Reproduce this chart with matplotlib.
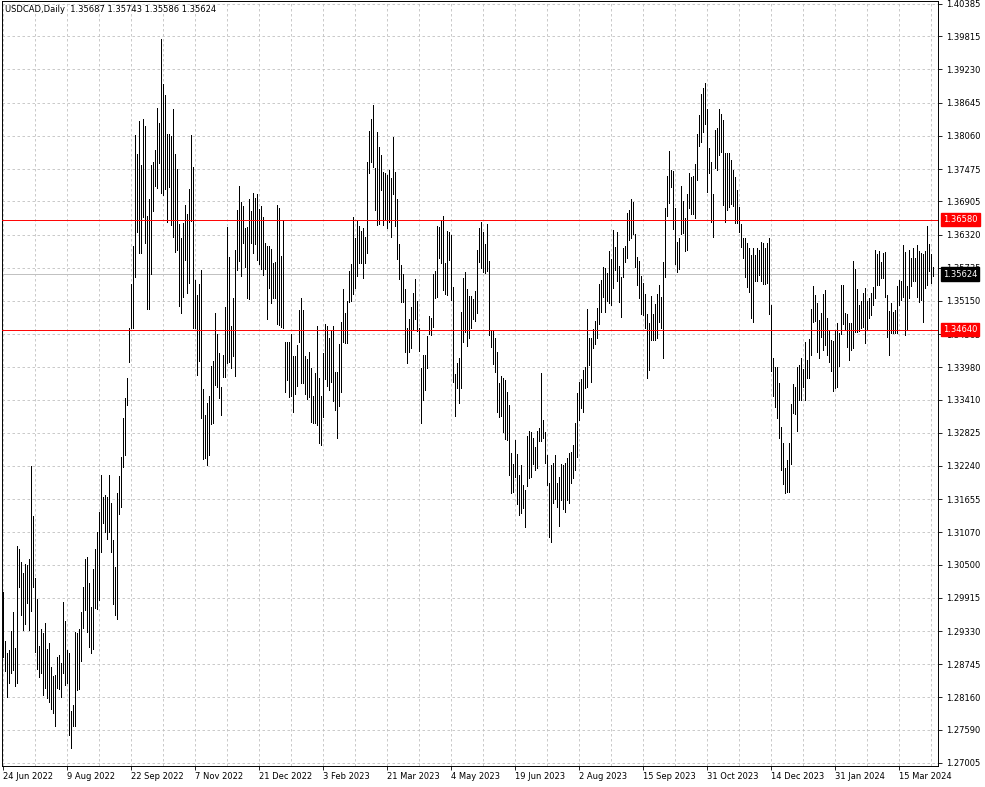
import numpy as np
import pandas as pd
import matplotlib
matplotlib.use("Agg")
import matplotlib.pyplot as plt

plt.rcParams['font.family'] = ['DejaVu Sans']

symbol = "USDCAD,Daily"
last_ohlc = [1.35687, 1.35743, 1.35586, 1.35624]
current_price = 1.35624
levels = [1.36580, 1.34640]

# daily highs / lows (24 Jun 2022 -> Apr 2024)
highs = [
    1.3002, 1.2915, 1.2894, 1.2900, 1.2933, 1.2967, 1.2903, 1.3083, 1.3078, 1.3055,
    1.3035, 1.3051, 1.3049, 1.3060, 1.3224, 1.3136, 1.3027, 1.2989, 1.2907, 1.2937,
    1.2930, 1.2947, 1.2901, 1.2912, 1.2870, 1.2854, 1.2856, 1.2887, 1.2891, 1.2877,
    1.2984, 1.2951, 1.2900, 1.2894, 1.2792, 1.2803, 1.2931, 1.2930, 1.2937, 1.2967,
    1.3011, 1.3060, 1.3064, 1.3018, 1.2975, 1.3042, 1.3078, 1.3108, 1.3143, 1.3208,
    1.3169, 1.3173, 1.3169, 1.3208, 1.3159, 1.3094, 1.3046, 1.3176, 1.3206, 1.3240,
    1.3309, 1.3344, 1.3379, 1.3467, 1.3545, 1.3612, 1.3808, 1.3774, 1.3832, 1.3755,
    1.3836, 1.3823, 1.3665, 1.3695, 1.3755, 1.3760, 1.3781, 1.3855, 1.3829, 1.3977,
    1.3897, 1.3878, 1.3809, 1.3809, 1.3806, 1.3853, 1.3774, 1.3748, 1.3651, 1.3626,
    1.3652, 1.3684, 1.3668, 1.3712, 1.3808, 1.3751, 1.3552, 1.3525, 1.3545, 1.3570,
    1.3360, 1.3314, 1.3335, 1.3347, 1.3400, 1.3409, 1.3494, 1.3457, 1.3423, 1.3363,
    1.3420, 1.3504, 1.3645, 1.3592, 1.3471, 1.3520, 1.3605, 1.3675, 1.3718, 1.3689,
    1.3682, 1.3644, 1.3645, 1.3695, 1.3674, 1.3705, 1.3696, 1.3703, 1.3677, 1.3682,
    1.3663, 1.3617, 1.3612, 1.3612, 1.3607, 1.3582, 1.3584, 1.3684, 1.3679, 1.3594,
    1.3658, 1.3443, 1.3443, 1.3443, 1.3457, 1.3418, 1.3418, 1.3437, 1.3499, 1.3520,
    1.3499, 1.3418, 1.3413, 1.3425, 1.3397, 1.3347, 1.3388, 1.3471, 1.3379, 1.3347,
    1.3423, 1.3474, 1.3471, 1.3450, 1.3464, 1.3471, 1.3390, 1.3390, 1.3439, 1.3478,
    1.3536, 1.3494, 1.3515, 1.3568, 1.3580, 1.3663, 1.3626, 1.3656, 1.3647, 1.3638,
    1.3644, 1.3628, 1.3760, 1.3815, 1.3836, 1.3860, 1.3749, 1.3813, 1.3786, 1.3772,
    1.3742, 1.3741, 1.3737, 1.3746, 1.3732, 1.3804, 1.3742, 1.3695, 1.3615, 1.3578,
    1.3562, 1.3536, 1.3467, 1.3483, 1.3504, 1.3529, 1.3554, 1.3515, 1.3467, 1.3397,
    1.3420, 1.3420, 1.3453, 1.3488, 1.3485, 1.3562, 1.3568, 1.3647, 1.3645, 1.3658,
    1.3665, 1.3582, 1.3638, 1.3637, 1.3631, 1.3540, 1.3386, 1.3406, 1.3414, 1.3496,
    1.3555, 1.3566, 1.3536, 1.3524, 1.3524, 1.3519, 1.3532, 1.3605, 1.3644, 1.3654,
    1.3637, 1.3615, 1.3651, 1.3585, 1.3464, 1.3462, 1.3450, 1.3425, 1.3370, 1.3383,
    1.3379, 1.3376, 1.3354, 1.3332, 1.3247, 1.3228, 1.3270, 1.3245, 1.3208, 1.3226,
    1.3190, 1.3182, 1.3277, 1.3286, 1.3284, 1.3273, 1.3257, 1.3286, 1.3291, 1.3388,
    1.3305, 1.3284, 1.3243, 1.3194, 1.3226, 1.3229, 1.3243, 1.3194, 1.3204, 1.3228,
    1.3226, 1.3229, 1.3238, 1.3247, 1.3249, 1.3261, 1.3300, 1.3353, 1.3372, 1.3377,
    1.3393, 1.3399, 1.3501, 1.3450, 1.3450, 1.3466, 1.3480, 1.3503, 1.3545, 1.3552,
    1.3575, 1.3573, 1.3564, 1.3603, 1.3589, 1.3640, 1.3610, 1.3637, 1.3577, 1.3557,
    1.3608, 1.3612, 1.3670, 1.3675, 1.3695, 1.3689, 1.3633, 1.3592, 1.3585, 1.3559,
    1.3547, 1.3527, 1.3492, 1.3476, 1.3524, 1.3492, 1.3510, 1.3527, 1.3543, 1.3522,
    1.3584, 1.3679, 1.3735, 1.3779, 1.3746, 1.3744, 1.3679, 1.3619, 1.3626, 1.3718,
    1.3691, 1.3661, 1.3703, 1.3741, 1.3733, 1.3735, 1.3756, 1.3809, 1.3843, 1.3880,
    1.3890, 1.3899, 1.3853, 1.3784, 1.3760, 1.3703, 1.3816, 1.3820, 1.3853, 1.3844,
    1.3834, 1.3776, 1.3776, 1.3776, 1.3763, 1.3746, 1.3733, 1.3711, 1.3680, 1.3651,
    1.3626, 1.3626, 1.3617, 1.3608, 1.3596, 1.3608, 1.3596, 1.3608, 1.3605, 1.3619,
    1.3617, 1.3608, 1.3617, 1.3626, 1.3508, 1.3414, 1.3399, 1.3399, 1.3370, 1.3293,
    1.3265, 1.3221, 1.3235, 1.3265, 1.3333, 1.3368, 1.3363, 1.3399, 1.3402, 1.3414,
    1.3395, 1.3443, 1.3411, 1.3448, 1.3501, 1.3541, 1.3525, 1.3511, 1.3481, 1.3494,
    1.3527, 1.3534, 1.3485, 1.3464, 1.3446, 1.3444, 1.3464, 1.3476, 1.3459, 1.3543,
    1.3543, 1.3494, 1.3492, 1.3476, 1.3476, 1.3585, 1.3571, 1.3536, 1.3508, 1.3515,
    1.3529, 1.3538, 1.3515, 1.3520, 1.3529, 1.3540, 1.3605, 1.3598, 1.3603, 1.3584,
    1.3600, 1.3601, 1.3525, 1.3497, 1.3511, 1.3496, 1.3499, 1.3541, 1.3552, 1.3550,
    1.3614, 1.3601, 1.3541, 1.3605, 1.3591, 1.3608, 1.3591, 1.3614, 1.3603, 1.3600,
    1.3598, 1.3603, 1.3647, 1.3615, 1.3598, 1.35743,
]
lows = [
    1.2887, 1.2863, 1.2817, 1.2841, 1.2859, 1.2864, 1.2836, 1.2841, 1.3011, 1.2961,
    1.2935, 1.2945, 1.2982, 1.2935, 1.2968, 1.3011, 1.2896, 1.2866, 1.2852, 1.2859,
    1.2820, 1.2833, 1.2815, 1.2808, 1.2796, 1.2789, 1.2766, 1.2833, 1.2831, 1.2817,
    1.2859, 1.2838, 1.2841, 1.2750, 1.2727, 1.2766, 1.2766, 1.2829, 1.2831, 1.2880,
    1.2938, 1.2970, 1.2931, 1.2905, 1.2894, 1.2901, 1.2974, 1.2972, 1.2988, 1.3072,
    1.3123, 1.3108, 1.3095, 1.3108, 1.3072, 1.2981, 1.2961, 1.2954, 1.3139, 1.3152,
    1.3222, 1.3243, 1.3332, 1.3407, 1.3467, 1.3467, 1.3557, 1.3637, 1.3600, 1.3600,
    1.3663, 1.3617, 1.3501, 1.3501, 1.3562, 1.3674, 1.3718, 1.3714, 1.3758, 1.3705,
    1.3702, 1.3712, 1.3654, 1.3716, 1.3649, 1.3628, 1.3601, 1.3605, 1.3506, 1.3494,
    1.3522, 1.3587, 1.3529, 1.3547, 1.3656, 1.3467, 1.3467, 1.3384, 1.3409, 1.3309,
    1.3236, 1.3238, 1.3226, 1.3243, 1.3298, 1.3300, 1.3367, 1.3363, 1.3344, 1.3314,
    1.3381, 1.3381, 1.3406, 1.3407, 1.3397, 1.3418, 1.3383, 1.3570, 1.3585, 1.3559,
    1.3617, 1.3575, 1.3520, 1.3519, 1.3617, 1.3600, 1.3615, 1.3587, 1.3580, 1.3571,
    1.3561, 1.3571, 1.3483, 1.3538, 1.3511, 1.3520, 1.3520, 1.3474, 1.3472, 1.3469,
    1.3467, 1.3354, 1.3376, 1.3346, 1.3347, 1.3319, 1.3351, 1.3365, 1.3443, 1.3370,
    1.3370, 1.3351, 1.3342, 1.3346, 1.3302, 1.3300, 1.3300, 1.3296, 1.3265, 1.3261,
    1.3310, 1.3377, 1.3365, 1.3358, 1.3372, 1.3339, 1.3323, 1.3273, 1.3330, 1.3354,
    1.3443, 1.3441, 1.3441, 1.3513, 1.3515, 1.3527, 1.3538, 1.3559, 1.3582, 1.3582,
    1.3555, 1.3582, 1.3600, 1.3741, 1.3760, 1.3751, 1.3675, 1.3649, 1.3651, 1.3711,
    1.3649, 1.3658, 1.3644, 1.3654, 1.3628, 1.3703, 1.3647, 1.3589, 1.3554, 1.3513,
    1.3513, 1.3425, 1.3406, 1.3425, 1.3432, 1.3464, 1.3483, 1.3462, 1.3427, 1.3300,
    1.3340, 1.3358, 1.3397, 1.3457, 1.3455, 1.3469, 1.3520, 1.3522, 1.3591, 1.3582,
    1.3534, 1.3527, 1.3525, 1.3587, 1.3517, 1.3372, 1.3312, 1.3361, 1.3335, 1.3361,
    1.3443, 1.3460, 1.3435, 1.3450, 1.3467, 1.3483, 1.3480, 1.3494, 1.3584, 1.3573,
    1.3566, 1.3564, 1.3568, 1.3455, 1.3434, 1.3404, 1.3390, 1.3319, 1.3310, 1.3312,
    1.3284, 1.3272, 1.3270, 1.3208, 1.3176, 1.3178, 1.3204, 1.3157, 1.3138, 1.3141,
    1.3150, 1.3116, 1.3188, 1.3203, 1.3204, 1.3228, 1.3217, 1.3221, 1.3268, 1.3268,
    1.3273, 1.3229, 1.3190, 1.3098, 1.3090, 1.3159, 1.3166, 1.3152, 1.3118, 1.3164,
    1.3148, 1.3143, 1.3164, 1.3159, 1.3194, 1.3203, 1.3217, 1.3240, 1.3305, 1.3326,
    1.3319, 1.3361, 1.3363, 1.3402, 1.3372, 1.3432, 1.3439, 1.3450, 1.3474, 1.3496,
    1.3522, 1.3496, 1.3515, 1.3511, 1.3508, 1.3538, 1.3570, 1.3550, 1.3513, 1.3487,
    1.3557, 1.3584, 1.3591, 1.3622, 1.3626, 1.3633, 1.3575, 1.3543, 1.3520, 1.3492,
    1.3490, 1.3467, 1.3379, 1.3393, 1.3446, 1.3446, 1.3446, 1.3450, 1.3478, 1.3467,
    1.3414, 1.3557, 1.3665, 1.3687, 1.3716, 1.3642, 1.3580, 1.3566, 1.3571, 1.3633,
    1.3635, 1.3603, 1.3605, 1.3679, 1.3668, 1.3668, 1.3661, 1.3728, 1.3788, 1.3795,
    1.3813, 1.3827, 1.3707, 1.3741, 1.3654, 1.3628, 1.3749, 1.3746, 1.3772, 1.3777,
    1.3684, 1.3654, 1.3675, 1.3680, 1.3686, 1.3682, 1.3652, 1.3652, 1.3637, 1.3610,
    1.3591, 1.3557, 1.3540, 1.3531, 1.3485, 1.3478, 1.3550, 1.3550, 1.3561, 1.3550,
    1.3545, 1.3545, 1.3547, 1.3492, 1.3391, 1.3347, 1.3328, 1.3309, 1.3273, 1.3217,
    1.3192, 1.3176, 1.3178, 1.3178, 1.3228, 1.3317, 1.3316, 1.3286, 1.3340, 1.3340,
    1.3363, 1.3340, 1.3379, 1.3379, 1.3420, 1.3478, 1.3480, 1.3425, 1.3414, 1.3452,
    1.3429, 1.3437, 1.3420, 1.3407, 1.3391, 1.3356, 1.3361, 1.3363, 1.3400, 1.3457,
    1.3474, 1.3464, 1.3434, 1.3411, 1.3429, 1.3432, 1.3460, 1.3460, 1.3462, 1.3467,
    1.3469, 1.3441, 1.3464, 1.3485, 1.3490, 1.3508, 1.3520, 1.3543, 1.3543, 1.3555,
    1.3555, 1.3522, 1.3452, 1.3420, 1.3459, 1.3459, 1.3459, 1.3459, 1.3508, 1.3517,
    1.3522, 1.3455, 1.3464, 1.3520, 1.3541, 1.3550, 1.3550, 1.3522, 1.3513, 1.3517,
    1.3478, 1.3538, 1.3543, 1.3568, 1.3547, 1.35586,
]

price_ticks = [1.40385, 1.39815, 1.39230, 1.38645, 1.38060, 1.37475, 1.36905, 1.36320,
               1.35735, 1.35150, 1.34565, 1.33980, 1.33410, 1.32825, 1.32240, 1.31655,
               1.31070, 1.30500, 1.29915, 1.29330, 1.28745, 1.28160, 1.27590, 1.27005]

n = len(highs)
# trading days, broker closed on 25 Dec 2023 and 1 Jan 2024
dates = pd.bdate_range("2022-06-24", periods=n + 2)
dates = dates.drop(pd.to_datetime(["2023-12-25", "2024-01-01"]))
x = np.arange(n)

fig = plt.figure(figsize=(9.85, 7.87), dpi=100)
ax = fig.add_axes([2 / 985, 21 / 787, 936 / 985, 765 / 787])

ax.vlines(x, lows, highs, colors='black', linewidth=0.6, antialiased=False, zorder=2)

ax.set_xlim(-0.5, n + 1.5)
ax.set_ylim(1.26951, 1.40437)

# grid and ticks
ax.set_yticks(price_ticks)
ax.set_yticklabels([f"{p:.5f}" for p in price_ticks])
major = list(range(0, n, 32))
ax.set_xticks(major)
ax.set_xticklabels([f"{dates[i].day} {dates[i]:%b %Y}" for i in major], ha='left')
ax.set_xticks(list(range(16, n, 32)), minor=True)
ax.set_axisbelow(True)
ax.grid(True, which='both', color='#c0c0c0', linestyle=(0, (3, 3)), linewidth=0.6)
ax.yaxis.tick_right()
ax.tick_params(axis='y', which='major', direction='out', length=3, width=0.6,
               labelsize=6, pad=3, colors='black')
ax.tick_params(axis='x', which='major', direction='out', length=3, width=0.6,
               labelsize=6, pad=1, colors='black')
ax.tick_params(axis='x', which='minor', length=0)
for s in ax.spines.values():
    s.set_color('black')
    s.set_linewidth(0.7)

# current price and levels
ax.axhline(current_price, color='#c0c0c0', linewidth=0.7, zorder=1.5)
for lv in levels:
    ax.axhline(lv, color='red', linewidth=0.7, zorder=3)
    ax.annotate(f"{lv:.5f}", xy=(1, lv), xycoords=ax.get_yaxis_transform(),
                xytext=(5, 0), textcoords='offset pixels', ha='left', va='center',
                fontsize=6, color='white', annotation_clip=False, zorder=6,
                bbox=dict(boxstyle='square,pad=0.25', fc='red', ec='red'))
ax.annotate(f"{current_price:.5f}", xy=(1, current_price), xycoords=ax.get_yaxis_transform(),
            xytext=(5, 0), textcoords='offset pixels', ha='left', va='center',
            fontsize=6, color='white', annotation_clip=False, zorder=6,
            bbox=dict(boxstyle='square,pad=0.25', fc='black', ec='black'))

title = symbol + "  " + " ".join(f"{v:.5f}" for v in last_ohlc)
ax.text(0.003, 0.995, title, transform=ax.transAxes, ha='left', va='top',
        fontsize=6, color='black')

fig.savefig("out.png", dpi=100, facecolor='white')
